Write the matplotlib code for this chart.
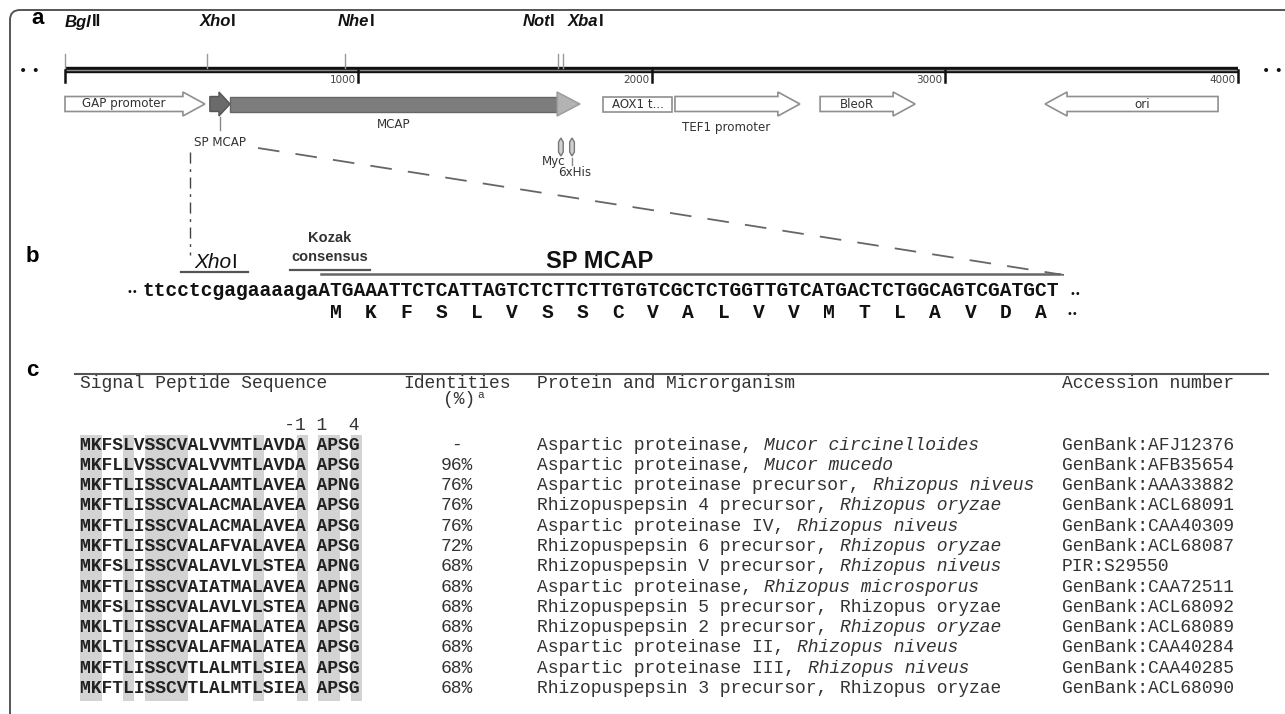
import matplotlib
matplotlib.use("Agg")
import matplotlib.pyplot as plt
from matplotlib import transforms
from matplotlib.patches import Polygon, Rectangle, FancyBboxPatch

# vector map, positions in bp
site_names = [("Bgl", "II"), ("Xho", "I"), ("Nhe", "I"), ("Not", "I"), ("Xba", "I")]
site_bp = [0, 484, 955, 1681, 1698]
site_align = ["left", "left", "left", "right", "left"]
site_label_dx = [0, -7, -7, -3, 5]  # label offset from the cut line, px

tick_bp = [0, 1000, 2000, 3000, 4000]
vector_len = 4000

feat_names = ["GAP promoter", "SP MCAP", "MCAP", "AOX1 t...", "TEF1 promoter", "BleoR", "ori"]
feat_start = [0, 494, 563, 1835, 2080, 2575, 3342]
feat_end = [477, 563, 1756, 2070, 2506, 2899, 3932]
feat_strand = [1, 1, 1, 0, 1, 1, -1]
tag_names = ["Myc", "6xHis"]
tag_bp = [1691, 1729]

# signal peptide coding region
upstream = "ttcctcgagaaaaga"
codons = ["ATG", "AAA", "TTC", "TCA", "TTA", "GTC", "TCT", "TCT", "TGT", "GTC", "GCT",
          "CTG", "GTT", "GTC", "ATG", "ACT", "CTG", "GCA", "GTC", "GAT", "GCT"]
peptide = ["M", "K", "F", "S", "L", "V", "S", "S", "C", "V", "A",
           "L", "V", "V", "M", "T", "L", "A", "V", "D", "A"]

# signal peptide alignment
sp_seqs = [
    "MKFSLVSSCVALVVMTLAVDA APSG",
    "MKFLLVSSCVALVVMTLAVDA APSG",
    "MKFTLISSCVALAAMTLAVEA APNG",
    "MKFTLISSCVALACMALAVEA APSG",
    "MKFTLISSCVALACMALAVEA APSG",
    "MKFTLISSCVALAFVALAVEA APSG",
    "MKFSLISSCVALAVLVLSTEA APNG",
    "MKFTLISSCVAIATMALAVEA APNG",
    "MKFSLISSCVALAVLVLSTEA APNG",
    "MKLTLISSCVALAFMALATEA APSG",
    "MKLTLISSCVALAFMALATEA APSG",
    "MKFTLISSCVTLALMTLSIEA APSG",
    "MKFTLISSCVTLALMTLSIEA APSG",
]
identities = ["-", "96%", "76%", "76%", "76%", "72%", "68%", "68%", "68%", "68%", "68%", "68%", "68%"]
protein_names = [
    "Aspartic proteinase, ",
    "Aspartic proteinase, ",
    "Aspartic proteinase precursor, ",
    "Rhizopuspepsin 4 precursor, ",
    "Aspartic proteinase IV, ",
    "Rhizopuspepsin 6 precursor, ",
    "Rhizopuspepsin V precursor, ",
    "Aspartic proteinase, ",
    "Rhizopuspepsin 5 precursor, ",
    "Rhizopuspepsin 2 precursor, ",
    "Aspartic proteinase II, ",
    "Aspartic proteinase III, ",
    "Rhizopuspepsin 3 precursor, ",
]
organisms = [
    "Mucor circinelloides", "Mucor mucedo", "Rhizopus niveus", "Rhizopus oryzae",
    "Rhizopus niveus", "Rhizopus oryzae", "Rhizopus niveus", "Rhizopus microsporus",
    "Rhizopus oryzae", "Rhizopus oryzae", "Rhizopus niveus", "Rhizopus niveus",
    "Rhizopus oryzae",
]
organism_italic = [True, True, True, True, True, True, True, True, False, True, True, True, False]
accessions = [
    "GenBank:AFJ12376", "GenBank:AFB35654", "GenBank:AAA33882", "GenBank:ACL68091",
    "GenBank:CAA40309", "GenBank:ACL68087", "PIR:S29550", "GenBank:CAA72511",
    "GenBank:ACL68092", "GenBank:ACL68089", "GenBank:CAA40284", "GenBank:CAA40285",
    "GenBank:ACL68090",
]
conserved_cols = [0, 1, 4, 6, 7, 8, 9, 16, 20, 22, 23, 25]

W, H = 1285, 714
fig = plt.figure(figsize=(W / 100, H / 100), dpi=100)
renderer = fig.canvas.get_renderer()

# pixel-space axes for layout
ax = fig.add_axes([0, 0, 1, 1])
ax.set_xlim(0, W)
ax.set_ylim(H, 0)
ax.axis("off")

# map axes: x in bp, y in pixels
px_per_bp = 0.29325
map_x0 = 65
axm = fig.add_axes([0, 0, 1, 1])
axm.set_xlim(-map_x0 / px_per_bp, (W - map_x0) / px_per_bp)
axm.set_ylim(H, 0)
axm.axis("off")
axm.patch.set_alpha(0)

SANS = "Liberation Sans"
MONO = "Liberation Mono"
MAPF = "DejaVu Sans"


def rich(axis, x, y, parts, align="left", dx=0.0, **kw):
    # draw consecutive (text, style) pieces as one label
    texts = []
    widths = []
    for s, st in parts:
        t = axis.text(x, y, s, style=st, ha="left", **kw)
        widths.append(t.get_window_extent(renderer).width)
        texts.append(t)
    total = sum(widths)
    shift = dx
    if align == "right":
        shift -= total
    elif align == "center":
        shift -= total / 2
    base = 0.0
    for t, w in zip(texts, widths):
        t.set_transform(transforms.offset_copy(axis.transData, fig=fig, x=base + shift,
                                               y=0, units="dots"))
        base += w
    return texts


# frame
ax.add_patch(FancyBboxPatch((10, 10), 1400, 800, boxstyle="round,pad=0,rounding_size=10",
                            fc="none", ec="#555555", lw=1.4, clip_on=True))

# panel labels
for lab, (lx, ly) in zip(["a", "b", "c"], [(38, 18), (32, 257), (32, 371)]):
    ax.text(lx, ly, lab, fontsize=16, fontweight="bold", family=SANS, ha="center", va="center")

# ---- panel a ----
bb_y = 70
axm.plot([0, vector_len], [bb_y, bb_y], color="#111111", lw=4.6, solid_capstyle="butt")
axm.plot([0, vector_len], [bb_y, bb_y], color="#8a8a8a", lw=1.0, solid_capstyle="butt")
for tb in tick_bp:
    axm.plot([tb, tb], [bb_y, bb_y + 12], color="#111111", lw=1.8)
    if tb > 0:
        axm.text(tb - 8, bb_y + 10, str(tb), fontsize=7.5, family=MAPF, color="#444444",
                 ha="right", va="center")
ax.text(29, bb_y + 1, "• •", fontsize=10, ha="center", va="center", color="#111111")
ax.text(1272, bb_y + 1, "• •", fontsize=10, ha="center", va="center", color="#111111")

for (n1, n2), sb, al, ldx in zip(site_names, site_bp, site_align, site_label_dx):
    axm.plot([sb, sb], [54, bb_y - 2], color="#9a9a9a", lw=1.0)
    rich(axm, sb, 22, [(n1, "italic"), (n2, "normal")], align=al, dx=ldx, fontsize=12,
         fontweight="bold", family=SANS, va="center", color="#111111")


def arrow_pts(x0, x1, strand, yc, body, head, hl):
    if strand > 0:
        xb = x1 - hl
        return [(x0, yc - body / 2), (xb, yc - body / 2), (xb, yc - head / 2), (x1, yc),
                (xb, yc + head / 2), (xb, yc + body / 2), (x0, yc + body / 2)]
    if strand < 0:
        xb = x0 + hl
        return [(x1, yc - body / 2), (xb, yc - body / 2), (xb, yc - head / 2), (x0, yc),
                (xb, yc + head / 2), (xb, yc + body / 2), (x1, yc + body / 2)]
    return [(x0, yc - body / 2), (x1, yc - body / 2), (x1, yc + body / 2), (x0, yc + body / 2)]


fy = 104
lab_fs = 8.6
for name, s, e, st in zip(feat_names, feat_start, feat_end, feat_strand):
    if name == "MCAP":
        hl = 78
        axm.add_patch(Polygon(arrow_pts(s, e - hl, 0, fy, 15, 15, 0), closed=True,
                              fc="#7d7d7d", ec="#666666", lw=1.0))
        axm.add_patch(Polygon([(e - hl, fy - 12), (e, fy), (e - hl, fy + 12)], closed=True,
                              fc="#b3b3b3", ec="#999999", lw=1.0))
        axm.text((s + e - hl) / 2, fy + 21, name, fontsize=lab_fs, family=MAPF,
                 color="#333333", ha="center", va="center")
    elif name == "SP MCAP":
        axm.add_patch(Polygon(arrow_pts(s, e, 1, fy, 15, 24, 38), closed=True,
                              fc="#6b6b6b", ec="#555555", lw=1.0))
        mid = (s + e) / 2
        axm.plot([mid, mid], [fy + 13, fy + 26], color="#888888", lw=1.0)
        axm.text(mid, fy + 39, name, fontsize=lab_fs, family=MAPF, color="#333333",
                 ha="center", va="center")
    else:
        axm.add_patch(Polygon(arrow_pts(s, e, st, fy, 15, 24, 75), closed=True,
                              fc="white", ec="#8f8f8f", lw=1.2))
        if st > 0:
            cx = (s + e - 75) / 2
        elif st < 0:
            cx = (s + 75 + e) / 2
        else:
            cx = (s + e) / 2
        if name == "TEF1 promoter":
            axm.text(cx, fy + 24, name, fontsize=lab_fs, family=MAPF, color="#333333",
                     ha="center", va="center")
        else:
            axm.text(cx, fy, name, fontsize=lab_fs, family=MAPF, color="#333333",
                     ha="center", va="center")

# Myc / 6xHis tags
for tb in tag_bp:
    axm.add_patch(Polygon([(tb - 8, 142), (tb, 138), (tb + 8, 142), (tb + 8, 152),
                           (tb, 156), (tb - 8, 152)], closed=True, fc="#d0d0d0",
                          ec="#777777", lw=1.0))
axm.text(tag_bp[0] - 24, 161, tag_names[0], fontsize=lab_fs, family=MAPF, color="#333333",
         ha="center", va="center")
axm.plot([tag_bp[1], tag_bp[1]], [158, 165], color="#888888", lw=1.0)
axm.text(tag_bp[1] + 10, 172, tag_names[1], fontsize=lab_fs, family=MAPF, color="#333333",
         ha="center", va="center")

# zoom guides from SP MCAP to the sequence
ax.plot([190, 190], [152, 255], color="#444444", lw=1.0, ls=(0, (8, 4, 2, 4)))
ax.plot([258, 1064], [148, 275], color="#666666", lw=1.3, ls=(0, (12, 9)))

# ---- panel b ----
seq_fs = 14.1
cw_seq = 0.6 * seq_fs * 100 / 72
seq_x0 = 142
seq_y = 290
full_seq = upstream + "".join(codons)
ax.text(seq_x0, seq_y, full_seq, family=MONO, fontweight="bold", fontsize=seq_fs,
        ha="left", va="center", color="#111111")
ax.text(seq_x0 - 10, seq_y + 2, "••", fontsize=7, ha="center", va="center", color="#111111")
seq_x1 = seq_x0 + len(full_seq) * cw_seq
ax.text(seq_x1 + 17, seq_y + 4, "••", fontsize=7, ha="center", va="center", color="#111111")

cod_x0 = seq_x0 + len(upstream) * cw_seq
for i, aa in enumerate(peptide):
    ax.text(cod_x0 + (3 * i + 1.5) * cw_seq, seq_y + 22, aa, family=MONO, fontweight="bold",
            fontsize=seq_fs, ha="center", va="center", color="#111111")
ax.text(cod_x0 + (3 * len(peptide) + 1.2) * cw_seq, seq_y + 24, "••", fontsize=7,
        ha="center", va="center", color="#111111")

# annotations above the sequence
xho_a, xho_b = seq_x0 + 3 * cw_seq, seq_x0 + 9 * cw_seq
ax.plot([xho_a + 4, xho_b], [272, 272], color="#555555", lw=1.6)
rich(ax, (xho_a + xho_b) / 2 + 3, 262, [("Xho", "italic"), ("I", "normal")], align="center",
     fontsize=15, family=SANS, va="center", color="#111111")
ax.plot([290, 370], [270, 270], color="#555555", lw=1.6)
ax.text(330, 238, "Kozak", fontsize=10.5, fontweight="bold", family=SANS, ha="center",
        va="center", color="#333333")
ax.text(330, 257, "consensus", fontsize=10.5, fontweight="bold", family=SANS, ha="center",
        va="center", color="#333333")
ax.plot([cod_x0 + 3, seq_x1], [274, 274], color="#666666", lw=1.8)
ax.text(600, 262, "SP MCAP", fontsize=17, fontweight="bold", family=SANS, ha="center",
        va="center", color="#111111")

# ---- panel c ----
tab_fs = 13
cw = 0.6 * tab_fs * 100 / 72
col_seq, col_id, col_prot, col_acc = 80, 457, 537, 1062
row0, dy = 445, 20.3
tcol = "#333333"

ax.plot([75, 1268], [374, 374], color="#555555", lw=1.5)
ax.text(col_seq, 383, "Signal Peptide Sequence", family=MONO, fontsize=tab_fs, ha="left",
        va="center", color=tcol)
ax.text(col_id, 383, "Identities", family=MONO, fontsize=tab_fs, ha="center", va="center",
        color=tcol)
ax.text(col_id + 2, 399, "(%)", family=MONO, fontsize=tab_fs, ha="center", va="center",
        color=tcol)
ax.text(col_id + 2 + 1.5 * cw + 2, 395, "a", family=MONO, fontsize=8, ha="left",
        va="center", color=tcol)
ax.text(col_prot, 383, "Protein and Microrganism", family=MONO, fontsize=tab_fs, ha="left",
        va="center", color=tcol)
ax.text(col_acc, 383, "Accession number", family=MONO, fontsize=tab_fs, ha="left",
        va="center", color=tcol)
ax.text(col_seq, 425, "                   -1 1  4", family=MONO, fontsize=tab_fs,
        ha="left", va="center", color=tcol)

# conserved columns
n = len(sp_seqs)
for c in conserved_cols:
    ax.add_patch(Rectangle((col_seq + c * cw, row0 - 10), cw, (n - 1) * dy + 22,
                           fc="#d3d3d3", ec="none", zorder=0))

for i in range(n):
    y = row0 + i * dy
    ax.text(col_seq, y, sp_seqs[i], family=MONO, fontweight="bold", fontsize=tab_fs,
            ha="left", va="center", color="#222222")
    ax.text(col_id, y, identities[i], family=MONO, fontsize=tab_fs, ha="center",
            va="center", color=tcol)
    ax.text(col_prot, y, protein_names[i], family=MONO, fontsize=tab_fs, ha="left",
            va="center", color=tcol)
    ax.text(col_prot + len(protein_names[i]) * cw, y, organisms[i], family=MONO,
            style="italic" if organism_italic[i] else "normal", fontsize=tab_fs,
            ha="left", va="center", color=tcol)
    ax.text(col_acc, y, accessions[i], family=MONO, fontsize=tab_fs, ha="left",
            va="center", color=tcol)

fig.savefig("out.png", dpi=100)
